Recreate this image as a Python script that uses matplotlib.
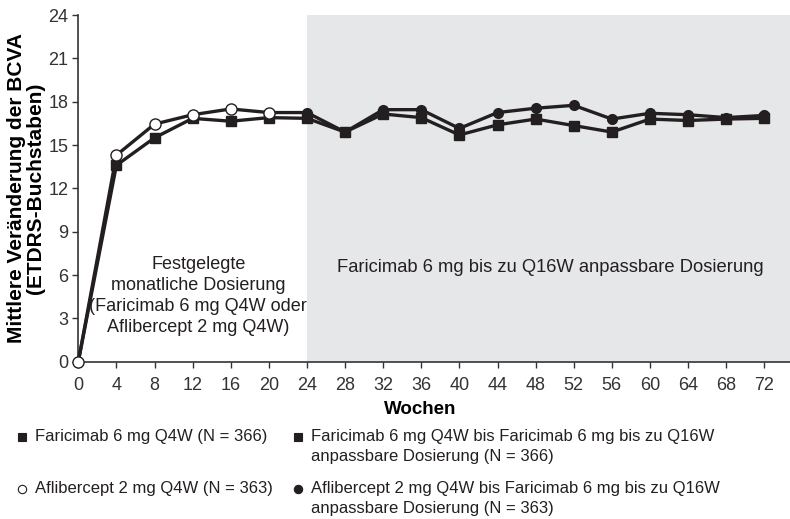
import numpy as np
import matplotlib
matplotlib.use('Agg')
import matplotlib.pyplot as plt

plt.rcParams['font.family'] = ['Liberation Sans', 'DejaVu Sans']

# Data
weeks = [0, 4, 8, 12, 16, 20, 24, 28, 32, 36, 40, 44, 48, 52, 56, 60, 64, 68, 72]
faricimab = [0, 13.6, 15.5, 16.85, 16.65, 16.9, 16.85, 15.9, 17.15, 16.9, 15.7,
             16.4, 16.8, 16.35, 15.9, 16.8, 16.7, 16.8, 16.85]
aflibercept = [0, 14.3, 16.45, 17.1, 17.5, 17.25, 17.25, 15.9, 17.45, 17.45, 16.15,
               17.25, 17.55, 17.75, 16.8, 17.2, 17.1, 16.9, 17.05]
switch_week = 24

x_ticks = list(range(0, 73, 4))
y_ticks = list(range(0, 25, 3))

ink = '#231f20'
shade = '#e6e7e8'

fig = plt.figure(figsize=(7.9, 5.19), dpi=100)
ax = fig.add_axes([0.0991, 0.303, 0.9009, 0.668])

ax.axvspan(switch_week, 80, color=shade, zorder=0, lw=0)

w = np.array(weeks)
f = np.array(faricimab)
a = np.array(aflibercept)
early = w <= 20
late = w >= 24

# Faricimab: filled squares throughout
ax.plot(w, f, color=ink, lw=2.4, zorder=3, clip_on=False)
ax.plot(w[1:], f[1:], ls='none', marker='s', ms=7, color=ink, zorder=4, clip_on=False)

# Aflibercept: open circles until week 20, filled after the switch
ax.plot(w, a, color=ink, lw=2.4, zorder=3, clip_on=False)
ax.plot(w[early], a[early], ls='none', marker='o', ms=8, mfc='white', mec=ink,
        mew=1.0, zorder=5, clip_on=False)
ax.plot(w[late], a[late], ls='none', marker='o', ms=7, color=ink, zorder=5, clip_on=False)

ax.set_xlim(0, 74.7)
ax.set_ylim(0, 24)
ax.set_xticks(x_ticks)
ax.set_yticks(y_ticks)
ax.tick_params(labelsize=13, colors='#333333', length=4, width=1)
ax.tick_params(axis='x', pad=7)
ax.tick_params(axis='y', pad=3)
for s in ['top', 'right']:
    ax.spines[s].set_visible(False)
for s in ['left', 'bottom']:
    ax.spines[s].set_color('#333333')
    ax.spines[s].set_linewidth(1.2)

ax.set_xlabel('Wochen', fontsize=13.5, fontweight='bold')
ax.xaxis.set_label_coords(0.48, -0.112)
ax.set_ylabel('Mittlere Veränderung der BCVA\n(ETDRS-Buchstaben)', fontsize=15,
              fontweight='bold', linespacing=1.0)
ax.yaxis.set_label_coords(-0.047, 0.5)

ax.text(12.6, 7.33, 'Festgelegte\nmonatliche Dosierung\n(Faricimab 6 mg Q4W oder\nAflibercept 2 mg Q4W)',
        ha='center', va='top', fontsize=13, color=ink, linespacing=1.32)
ax.text(49.5, 7.13, 'Faricimab 6 mg bis zu Q16W anpassbare Dosierung',
        ha='center', va='top', fontsize=13.2, color=ink)

# Legend below the plot, laid out by hand
def fy(py):
    return 1 - py / 519

def fx(px):
    return px / 790

leg = [
    (22, 437, 's', ink, 'Faricimab 6 mg Q4W (N = 366)'),
    (22, 489, 'o', 'white', 'Aflibercept 2 mg Q4W (N = 363)'),
    (298, 437, 's', ink, 'Faricimab 6 mg Q4W bis Faricimab 6 mg bis zu Q16W\nanpassbare Dosierung (N = 366)'),
    (298, 489, 'o', ink, 'Aflibercept 2 mg Q4W bis Faricimab 6 mg bis zu Q16W\nanpassbare Dosierung (N = 363)'),
]
for px, py, m, fc, label in leg:
    fig.add_artist(plt.Line2D([fx(px)], [fy(py)], marker=m, ms=6, mfc=fc, mec=ink,
                              mew=0.8, ls='none', transform=fig.transFigure))
    fig.text(fx(px + 13), fy(py - 8), label, ha='left', va='top', fontsize=12,
             color=ink, linespacing=1.45)

fig.savefig('out.png', dpi=100)
